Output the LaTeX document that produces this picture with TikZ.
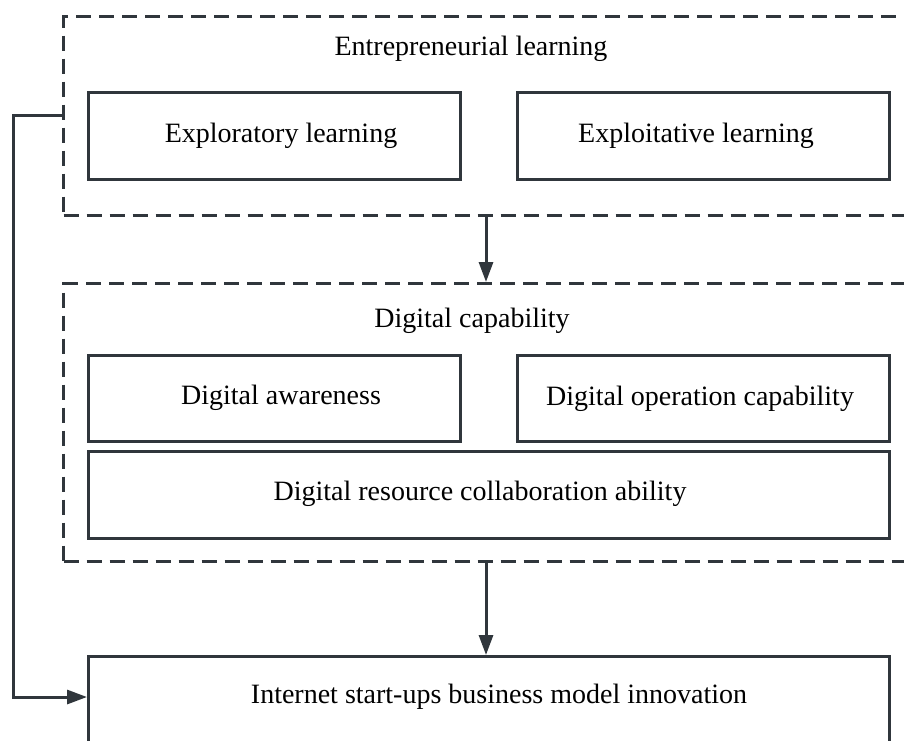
\documentclass[tikz,border=0pt]{standalone}
\usepackage{fontspec}
\setmainfont{Liberation Serif}
\usetikzlibrary{arrows.meta,calc}
\definecolor{ink}{HTML}{30363C}
\tikzset{
  every picture/.style={x=1pt,y=-1pt},
  group/.style={draw=ink, line width=3pt, dash pattern=on 15pt off 8pt,
    anchor=north west, inner sep=0pt},
  itembox/.style={draw=ink, line width=3pt, anchor=north west, inner sep=0pt},
  caption/.style={font=\fontsize{28}{32}\selectfont},
  link/.style={draw=ink, line width=3pt, -{Triangle[length=20pt,width=14pt]}},
}
\begin{document}
\begin{tikzpicture}
\useasboundingbox (0,0) rectangle (904,740);
\clip (0,0) rectangle (904,740);
\fill[white] (0,0) rectangle (904,740);

% Entrepreneurial learning group
\node[group, minimum width=880pt, minimum height=199pt] (el) at (62,15) {};
\node[caption] (elt) at (471,49) {Entrepreneurial learning};
\node[itembox, minimum width=372pt, minimum height=87pt] (exr) at (87,91) {};
\node[caption] (exrt) at (281,136) {Exploratory learning};
\node[itembox, minimum width=372pt, minimum height=87pt] (exi) at (516,91) {};
\node[caption] (exit) at (696,136) {Exploitative learning};

% Digital capability group
\node[group, minimum width=880pt, minimum height=278pt] (dc) at (62,282) {};
\node[caption] (dct) at (472,321) {Digital capability};
\node[itembox, minimum width=372pt, minimum height=86pt] (daw) at (87,354) {};
\node[caption] (dawt) at (281,398) {Digital awareness};
\node[itembox, minimum width=372pt, minimum height=86pt] (dop) at (516,354) {};
\node[caption] (dopt) at (700,399) {Digital operation capability};
\node[itembox, minimum width=801pt, minimum height=87pt] (drc) at (87,450) {};
\node[caption] (drct) at (480,494) {Digital resource collaboration ability};

% Outcome
\node[itembox, minimum width=801pt, minimum height=110pt] (bm) at (87,655) {};
\node[caption] (bmt) at (499,697) {Internet start-ups business model innovation};

% Connectors
\coordinate (elb) at (486,214);
\coordinate (dcb) at (486,560);
\draw[link] (elb) -- (elb |- dc.north);
\draw[link] (dcb) -- (dcb |- bm.north);
\coordinate (bmin) at ($(bm.north west)+(0,42)$);
\draw[link] (62,115) -- (13,115) |- (bmin);
\end{tikzpicture}
\end{document}
